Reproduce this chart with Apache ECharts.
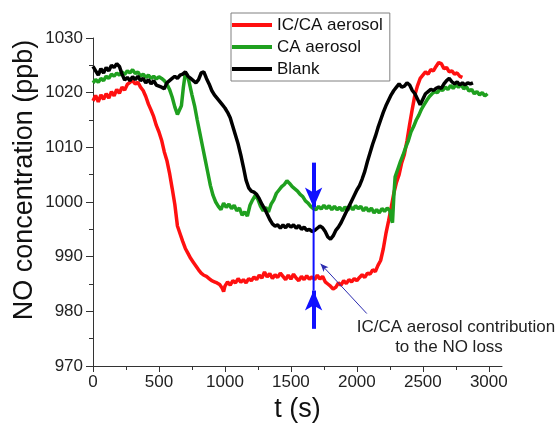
<!DOCTYPE html>
<html>
<head>
<meta charset="utf-8">
<script src="https://cdn.jsdelivr.net/npm/echarts@6/dist/echarts.min.js"></script>
<style>html,body{margin:0;padding:0;background:#fff}#c{width:558px;height:428px}</style>
</head>
<body>
<div id="c"></div>
<script>
// ---- data (t in s, NO in ppb) ----
var seriesNames = ['IC/CA aerosol', 'CA aerosol', 'Blank'];
var xTicks = [0, 500, 1000, 1500, 2000, 2500, 3000];
var xMinorTicks = [250, 750, 1250, 1750, 2250, 2750];
var yTicks = [970, 980, 990, 1000, 1010, 1020, 1030];

var icca = [[0,1018.5],[20,1019.5],[40,1018.3],[60,1019.6],[80,1018.8],[100,1019.8],[120,1019.0],[140,1020.2],[160,1019.4],[180,1020.6],[200,1019.9],[220,1021.0],[240,1020.5],[260,1021.5],[280,1021.9],[300,1022.2],[320,1021.6],[340,1021.9],[360,1021.0],[380,1020.4],[400,1019.3],[420,1017.9],[440,1016.8],[460,1015.6],[480,1014.0],[500,1012.8],[520,1011.3],[540,1009.2],[560,1007.6],[580,1005.3],[600,1002.5],[620,999.6],[640,995.6],[660,994.2],[680,992.8],[700,991.5],[720,990.6],[740,989.7],[760,989.0],[780,988.3],[800,987.6],[820,987.0],[840,986.6],[860,986.4],[880,986.0],[900,985.6],[920,985.4],[940,985.2],[960,984.9],[980,984.2],[990,983.6],[1000,984.6],[1020,985.4],[1040,984.8],[1060,985.6],[1080,985.2],[1100,986.0],[1120,985.3],[1140,985.8],[1160,985.2],[1180,986.0],[1200,985.6],[1220,986.3],[1240,985.8],[1260,986.6],[1280,986.1],[1300,987.2],[1320,986.3],[1340,986.9],[1360,986.0],[1380,986.7],[1400,986.2],[1420,987.0],[1440,986.4],[1460,985.8],[1480,986.6],[1500,985.9],[1520,986.8],[1540,986.1],[1560,985.6],[1580,986.4],[1600,985.8],[1620,986.5],[1640,985.9],[1660,986.3],[1680,985.8],[1700,986.6],[1720,985.9],[1740,986.4],[1760,985.4],[1780,985.0],[1800,984.6],[1820,984.1],[1840,984.4],[1860,985.2],[1880,984.8],[1900,985.6],[1920,985.1],[1940,985.8],[1960,985.4],[1980,986.0],[2000,985.6],[2020,986.2],[2040,986.7],[2060,986.2],[2080,987.0],[2100,986.8],[2120,987.6],[2140,987.3],[2160,988.4],[2180,989.3],[2200,991.4],[2220,994.2],[2240,996.5],[2260,999.0],[2280,1001.6],[2300,1003.6],[2320,1005.0],[2340,1007.2],[2360,1008.7],[2380,1011.2],[2400,1014.2],[2420,1017.0],[2440,1019.6],[2460,1021.3],[2480,1022.6],[2500,1023.2],[2520,1023.8],[2540,1023.4],[2560,1024.2],[2580,1024.0],[2600,1024.8],[2620,1025.5],[2640,1025.3],[2660,1024.4],[2680,1024.6],[2700,1023.8],[2720,1024.0],[2740,1023.4],[2760,1023.6],[2780,1023.0],[2800,1022.8]];

var ca = [[0,1021.8],[20,1022.4],[40,1021.9],[60,1022.6],[80,1022.2],[100,1023.0],[120,1022.6],[140,1023.4],[160,1023.0],[180,1023.6],[200,1023.2],[220,1023.8],[240,1023.3],[260,1024.0],[280,1023.6],[300,1024.2],[320,1023.5],[340,1023.8],[360,1023.0],[380,1023.4],[400,1022.8],[420,1023.2],[440,1022.6],[460,1023.0],[480,1022.5],[500,1022.9],[520,1022.6],[540,1022.2],[560,1021.6],[580,1020.6],[600,1019.2],[620,1017.4],[640,1016.0],[655,1015.8],[670,1017.6],[685,1021.0],[700,1023.6],[715,1023.2],[730,1021.8],[750,1019.6],[770,1017.6],[790,1015.0],[810,1012.6],[830,1010.2],[850,1007.8],[870,1005.4],[890,1003.0],[910,1001.2],[930,1000.0],[950,999.2],[970,998.6],[990,999.8],[1010,999.0],[1030,999.6],[1050,998.8],[1070,999.4],[1090,998.4],[1110,998.9],[1130,997.6],[1150,998.2],[1170,997.4],[1190,999.4],[1210,1000.4],[1230,1001.2],[1250,1000.5],[1270,999.2],[1290,998.4],[1310,999.0],[1330,998.2],[1350,999.6],[1370,1000.4],[1390,1001.6],[1410,1002.2],[1430,1002.8],[1450,1003.2],[1470,1003.9],[1490,1003.4],[1510,1002.8],[1530,1002.4],[1550,1002.0],[1570,1001.4],[1590,1001.0],[1610,1000.2],[1630,999.8],[1650,999.2],[1670,998.8],[1690,998.6],[1710,999.2],[1730,998.7],[1750,999.4],[1770,998.8],[1790,999.3],[1810,998.6],[1830,999.2],[1850,998.6],[1870,999.0],[1890,998.4],[1910,999.1],[1930,998.5],[1950,999.2],[1970,998.6],[1990,999.3],[2010,998.8],[2030,999.2],[2050,998.4],[2070,999.0],[2090,998.3],[2110,998.9],[2130,998.0],[2150,998.6],[2170,998.0],[2190,998.8],[2210,998.3],[2230,998.9],[2250,998.4],[2260,997.0],[2270,996.2],[2280,1001.0],[2290,1004.6],[2310,1006.0],[2330,1007.4],[2350,1008.6],[2370,1010.0],[2390,1011.2],[2410,1012.8],[2430,1013.8],[2450,1015.0],[2470,1015.9],[2490,1017.0],[2510,1017.8],[2530,1018.6],[2550,1019.3],[2570,1019.8],[2590,1020.2],[2610,1020.0],[2630,1020.6],[2650,1020.4],[2670,1021.0],[2690,1020.6],[2710,1021.3],[2730,1020.8],[2750,1021.4],[2770,1021.0],[2790,1021.5],[2810,1020.7],[2830,1021.1],[2850,1020.3],[2870,1020.6],[2890,1019.8],[2910,1020.2],[2930,1019.6],[2950,1020.0],[2970,1019.4],[2990,1019.8]];

var blank = [[0,1024.8],[20,1024.0],[40,1023.2],[60,1024.4],[80,1023.6],[100,1024.6],[120,1024.0],[140,1025.0],[160,1024.6],[180,1025.3],[200,1024.8],[220,1023.4],[240,1022.3],[260,1022.8],[280,1022.2],[300,1022.9],[320,1022.4],[340,1023.0],[360,1022.2],[380,1022.6],[400,1021.8],[420,1022.4],[440,1021.6],[460,1022.2],[480,1021.4],[500,1021.2],[520,1021.0],[540,1020.7],[560,1021.8],[580,1022.2],[600,1022.6],[620,1023.0],[640,1022.6],[660,1023.2],[680,1023.4],[700,1023.8],[720,1023.0],[740,1022.6],[760,1022.2],[780,1021.8],[800,1022.4],[820,1023.6],[840,1023.8],[860,1022.6],[880,1021.6],[900,1020.4],[920,1019.6],[940,1019.0],[960,1018.4],[980,1017.8],[1000,1017.2],[1020,1016.4],[1040,1015.4],[1060,1013.8],[1080,1012.2],[1100,1010.6],[1120,1008.6],[1140,1006.4],[1160,1004.0],[1180,1002.6],[1200,1002.0],[1220,1001.8],[1240,1001.4],[1260,1000.6],[1280,999.6],[1300,998.8],[1320,997.8],[1340,996.8],[1360,996.0],[1380,995.6],[1400,995.8],[1420,995.2],[1440,995.8],[1460,995.3],[1480,995.9],[1500,995.4],[1520,995.8],[1540,995.2],[1560,995.7],[1580,995.0],[1600,995.4],[1620,994.8],[1640,995.0],[1660,994.6],[1680,994.8],[1700,995.2],[1720,995.6],[1740,995.3],[1760,994.6],[1780,993.6],[1800,993.2],[1820,993.8],[1840,994.8],[1860,995.4],[1880,996.2],[1900,997.2],[1920,998.2],[1940,999.2],[1960,1000.2],[1980,1001.2],[2000,1002.2],[2020,1003.0],[2040,1004.2],[2060,1005.6],[2080,1007.4],[2100,1009.0],[2120,1010.6],[2140,1012.0],[2160,1013.6],[2180,1015.0],[2200,1016.4],[2220,1017.6],[2240,1018.6],[2260,1019.6],[2280,1020.4],[2300,1021.0],[2320,1021.6],[2340,1021.0],[2360,1021.2],[2380,1021.8],[2400,1021.4],[2420,1020.4],[2440,1019.8],[2460,1018.8],[2480,1017.8],[2500,1018.8],[2520,1019.8],[2540,1020.2],[2560,1020.6],[2580,1020.4],[2600,1020.8],[2620,1021.0],[2640,1020.8],[2660,1021.6],[2680,1022.2],[2700,1022.6],[2720,1022.0],[2740,1021.6],[2760,1022.0],[2780,1021.4],[2800,1021.8],[2820,1021.4],[2840,1021.8],[2860,1021.6],[2880,1021.8]];

// annotation (data coordinates)
var arrowT = 1672;
var topArrow = [1007.2, 999.0];      // shaft start, head centre
var bottomArrow = [976.8, 983.8];    // shaft start, head centre
var connector = [[arrowT, 999.0], [arrowT, 983.8]];
var pointer = [[2075, 979.6], [1725, 988.7]];
var noteLines = ['IC/CA aerosol contribution', 'to the NO loss'];

var FONT = "'Liberation Sans', Arial, sans-serif";
var plain = function (v) { return String(v); };
var chart = echarts.init(document.getElementById('c'), null, {renderer: 'canvas'});

var option = {
  animation: false,
  backgroundColor: '#fff',
  textStyle: {fontFamily: FONT},
  grid: {left: 93, right: 56, top: 38, bottom: 62},
  legend: {
    data: seriesNames,
    orient: 'vertical',
    left: 231, top: 13,
    icon: 'rect',
    itemWidth: 40, itemHeight: 4, itemGap: 4,
    padding: [3, 7, 3, 1],
    borderColor: '#808080', borderWidth: 1,
    backgroundColor: '#fff',
    textStyle: {fontFamily: FONT, fontSize: 17, lineHeight: 18, color: '#111'}
  },
  xAxis: [{
    type: 'value', min: 0, max: 3100, interval: 500,
    name: 't (s)', nameLocation: 'middle', nameGap: 30,
    nameTextStyle: {fontFamily: FONT, fontSize: 27, color: '#111'},
    axisLine: {lineStyle: {color: '#333', width: 1}},
    axisTick: {show: true, length: 6, customValues: xTicks, lineStyle: {color: '#333'}},
    axisLabel: {customValues: xTicks, formatter: plain, fontFamily: FONT, fontSize: 17, color: '#222', margin: 8},
    splitLine: {show: false}
  }, {
    type: 'value', min: 0, max: 3100, position: 'bottom',
    axisLine: {show: false},
    axisTick: {show: true, length: 4, customValues: xMinorTicks, lineStyle: {color: '#333'}},
    axisLabel: {show: false},
    splitLine: {show: false}
  }],
  yAxis: {
    type: 'value', min: 970, max: 1030, interval: 10,
    axisLine: {show: true, lineStyle: {color: '#333', width: 1}},
    axisTick: {show: true, length: 7, lineStyle: {color: '#333'}},
    minorTick: {show: true, splitNumber: 2, length: 4, lineStyle: {color: '#333'}},
    axisLabel: {formatter: plain, fontFamily: FONT, fontSize: 17, color: '#222', margin: 10},
    splitLine: {show: false}
  },
  graphic: [{
    type: 'text', x: 25, y: 180, rotation: Math.PI / 2,
    style: {text: 'NO concentration (ppb)', font: "27px 'Liberation Sans', Arial, sans-serif",
      fill: '#111', align: 'center', verticalAlign: 'middle'}
  }, {
    type: 'text', x: 456, y: 327,
    style: {text: noteLines[0], font: "17px 'Liberation Sans', Arial, sans-serif",
      fill: '#222', align: 'center', verticalAlign: 'middle'}
  }, {
    type: 'text', x: 449, y: 347,
    style: {text: noteLines[1], font: "17px 'Liberation Sans', Arial, sans-serif",
      fill: '#222', align: 'center', verticalAlign: 'middle'}
  }],
  series: [{
    name: seriesNames[0], type: 'line', data: icca, showSymbol: false, symbol: 'none',
    lineStyle: {color: '#ff1010', width: 3.5}, itemStyle: {color: '#ff1010'}
  }, {
    name: seriesNames[1], type: 'line', data: ca, showSymbol: false, symbol: 'none',
    lineStyle: {color: '#1fa01f', width: 3.5}, itemStyle: {color: '#1fa01f'}
  }, {
    name: seriesNames[2], type: 'line', data: blank, showSymbol: false, symbol: 'none',
    lineStyle: {color: '#000', width: 3.5}, itemStyle: {color: '#000'}
  }, {
    name: 'annotation', type: 'line', data: connector, showSymbol: false, symbol: 'none',
    lineStyle: {color: '#1010ff', width: 2}, itemStyle: {color: '#1010ff'}, z: 5,
    markLine: {
      silent: true, animation: false,
      label: {show: false},
      emphasis: {disabled: true},
      symbol: ['none', 'arrow'],
      data: [
        [{coord: [arrowT, topArrow[0]], symbol: 'none', lineStyle: {color: '#1010ff', width: 4, type: 'solid'}},
         {coord: [arrowT, topArrow[1]], symbol: 'arrow', symbolSize: [13, 20]}],
        [{coord: [arrowT, bottomArrow[0]], symbol: 'none', lineStyle: {color: '#1010ff', width: 4, type: 'solid'}},
         {coord: [arrowT, bottomArrow[1]], symbol: 'arrow', symbolSize: [13, 20]}],
        [{coord: pointer[0], symbol: 'none', lineStyle: {color: '#2b2bb0', width: 1, type: 'solid'}},
         {coord: pointer[1], symbol: 'arrow', symbolSize: [5, 8]}]
      ]
    }
  }]
};
chart.setOption(option);
</script>
</body>
</html>
